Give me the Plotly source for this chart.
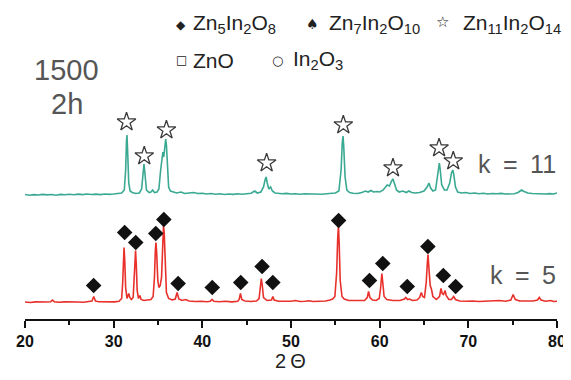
import plotly.graph_objects as go

# ---------------- data (2theta in degrees, intensity in arbitrary units above each baseline) -------------
k5_two_theta = [20.0, 20.6, 21.2, 21.8, 22.4, 22.9, 23.1, 23.3, 23.8, 24.5, 25.2, 25.9, 26.6, 27.3, 27.55, 27.75,
                27.95, 28.3, 28.9, 29.5, 30.1, 30.6, 30.9, 31.02, 31.1, 31.17, 31.25, 31.35, 31.5, 31.6, 31.7,
                31.82, 32.0, 32.2, 32.32, 32.4, 32.47, 32.55, 32.65, 32.8, 32.95, 33.1, 33.4, 33.8, 34.2, 34.45,
                34.6, 34.7, 34.77, 34.85, 34.98, 35.1, 35.25, 35.4, 35.52, 35.62, 35.7, 35.8, 35.95, 36.2, 36.6,
                36.95, 37.15, 37.35, 37.7, 38.1, 38.5, 39.2, 39.9, 40.5, 40.9, 41.1, 41.3, 41.9, 42.6, 43.3, 44.0,
                44.15, 44.3, 44.45, 44.8, 45.5, 46.1, 46.4, 46.55, 46.65, 46.75, 46.9, 47.3, 47.8, 47.95, 48.1,
                48.6, 49.3, 50.0, 50.5, 51.0, 51.6, 52.0, 52.5, 53.2, 53.9, 54.4, 54.7, 54.95, 55.15, 55.27, 55.35,
                55.43, 55.55, 55.75, 56.0, 56.5, 57.2, 57.8, 58.3, 58.6, 58.75, 58.9, 59.2, 59.6, 59.95, 60.1,
                60.25, 60.35, 60.5, 60.8, 61.5, 62.3, 62.8, 62.95, 63.15, 63.35, 63.7, 64.2, 64.5, 64.7, 64.85,
                65.05, 65.25, 65.38, 65.45, 65.55, 65.7, 65.85, 66.0, 66.4, 66.75, 66.92, 67.05, 67.2, 67.38, 67.5,
                67.8, 68.1, 68.35, 68.55, 69.0, 69.8, 70.5, 71.2, 72.0, 72.8, 73.5, 74.2, 74.8, 75.05, 75.3, 75.8,
                76.5, 77.3, 77.8, 78.0, 78.2, 78.7, 79.3, 79.6, 80.0]
k5_intensity = [0.5, 0.0, 0.6, 0.2, 0.5, 0.8, 2.5, 0.8, 0.3, 0.6, 0.2, 0.5, 0.3, 0.7, 1.5, 6,
                1.5, 0.8, 0.5, 0.8, 0.6, 1.2, 4, 20, 45, 55, 42, 15, 4, 6, 9,
                5, 3, 5, 22, 45, 52, 38, 12, 4, 7, 3, 2, 2.5, 3, 6,
                25, 52, 60, 50, 22, 15, 17, 25, 55, 77, 70, 35, 10, 4, 2.5,
                3.5, 10, 3.5, 2, 3, 1.5, 1, 1.3, 0.8, 1.2, 3, 1.2, 0.8, 1.2, 0.6, 1.2,
                3, 9, 3, 1.5, 1, 1.5, 4, 16, 24, 18, 5, 2, 2.5, 6, 2.5,
                1.2, 1, 1.3, 2, 1, 1.2, 1.8, 1, 1.3, 1.5, 2.5, 3.5, 6, 30, 65, 77,
                60, 22, 6, 3.5, 2, 1.8, 1.5, 2, 5, 11, 5, 2.5, 2, 4, 14,
                29, 20, 6, 3, 2, 2, 3.5, 5, 3, 3.5, 2, 2.5, 5, 10, 6,
                5, 20, 40, 48, 35, 17, 13, 6, 3, 6, 14, 9, 8, 12, 7,
                3, 3, 6, 3, 1.5, 1.2, 1.5, 1, 1.3, 1.1, 2, 1.3, 2.5, 8, 3, 1.5,
                1.2, 1.5, 2.5, 5, 2.5, 1.2, 2, 1, 1.3]

k11_two_theta = [20.0, 20.5, 21.0, 21.5, 22.0, 22.5, 23.0, 23.5, 24.0, 24.5, 25.0, 25.5, 26.0, 26.5, 27.0, 27.5,
                 28.0, 28.5, 29.0, 29.5, 30.0, 30.5, 30.9, 31.2, 31.35, 31.45, 31.5, 31.57, 31.7, 31.85, 32.1,
                 32.5, 32.9, 33.15, 33.3, 33.42, 33.52, 33.7, 34.0, 34.2, 34.4, 34.6, 34.9, 35.1, 35.3, 35.45,
                 35.55, 35.65, 35.75, 35.87, 35.95, 36.05, 36.2, 36.4, 36.8, 37.1, 37.6, 38.0, 38.5, 39.0, 39.5,
                 40.0, 40.5, 41.0, 41.5, 42.0, 42.5, 43.0, 43.5, 44.0, 44.5, 45.0, 45.5, 45.9, 46.2, 46.6, 46.9,
                 47.1, 47.2, 47.32, 47.5, 47.7, 47.9, 48.2, 48.6, 49.0, 49.5, 50.0, 50.5, 51.0, 51.5, 52.0, 52.5,
                 53.0, 53.5, 54.0, 54.5, 55.0, 55.4, 55.65, 55.78, 55.87, 55.95, 56.1, 56.3, 56.6, 57.0, 57.5,
                 58.0, 58.4, 58.7, 59.0, 59.3, 59.7, 60.0, 60.4, 60.85, 61.1, 61.35, 61.5, 61.65, 61.9, 62.2,
                 62.6, 63.0, 63.3, 63.6, 64.0, 64.5, 65.0, 65.35, 65.55, 65.75, 66.0, 66.3, 66.5, 66.65, 66.73,
                 66.82, 67.0, 67.3, 67.6, 67.9, 68.1, 68.25, 68.35, 68.55, 68.8, 69.2, 69.7, 70.2, 70.7, 71.2,
                 71.7, 72.2, 72.7, 73.2, 73.7, 74.2, 74.7, 75.2, 75.6, 76.0, 76.3, 76.7, 77.2, 77.7, 78.2, 78.7,
                 79.2, 79.6, 80.0]
k11_intensity = [0.5, -0.3, 0.4, 0.0, 0.6, 0.1, 0.5, -0.2, 0.6, 0.2, 0.8, 0.3, 0.9, 0.4, 1.0, 0.5,
                 0.9, 0.4, 1.0, 0.6, 1.0, 1.2, 2.0, 5, 25, 55, 60, 45, 12, 4, 2.5,
                 1.5, 2, 6, 20, 31, 22, 5, 2.5, 3, 5, 2.5, 3, 6, 25, 40,
                 43, 38, 45, 56, 50, 25, 8, 4, 3, 2, 3, 1.5, 2, 2.5, 1.5,
                 1.8, 1.0, 1.5, 0.8, 1.2, 0.5, 1.0, 0.6, 1.2, 0.8, 1.0, 1.8, 4, 2, 3, 8,
                 16, 18, 12, 6, 8, 4, 2, 1.5, 1.2, 1.6, 1.0, 1.3, 0.8, 1.2, 1.0, 0.7,
                 1.1, 0.8, 1.2, 1.5, 2, 4, 25, 52, 59, 48, 18, 5, 2.5, 1.8, 1.5,
                 2.5, 4, 3, 4.5, 3, 3.5, 3, 5, 10, 9, 14, 16, 12, 5, 3,
                 4, 2.5, 4, 2.5, 2, 2.5, 4, 8, 12, 7, 4, 5, 18, 30, 32,
                 26, 10, 5, 5, 12, 22, 25, 21, 8, 3, 2, 2.5, 1.5, 2, 1.2,
                 1.8, 1.0, 1.5, 1.2, 1.6, 1.0, 1.4, 1.2, 2.5, 5, 3.5, 2, 1.5, 1.2, 1.6, 1.0,
                 1.4, 1.0, 2.0]

# phase markers: Zn5In2O8 (diamonds) on k = 5, Zn11In2O14 (stars) on k = 11
zn5_marker_two_theta = [27.74, 31.24, 32.49, 34.75, 35.66, 37.27, 41.12, 44.33, 46.74, 47.95,
                        55.37, 58.85, 60.35, 63.11, 65.44, 67.18, 68.57]
zn5_marker_intensity = [17, 70, 60, 69, 83, 19, 15, 20, 36, 20, 82, 22, 39, 16, 56, 27, 16]
zn11_marker_two_theta = [31.45, 33.45, 35.95, 47.25, 55.9, 61.5, 66.7, 68.3]
zn11_marker_intensity = [73, 39, 65, 32, 70, 27, 47, 34]

x_ticks = [20, 30, 40, 50, 60, 70, 80]
sample_labels = ["k\u2002=\u200211", "k\u2002=\u20025"]
legend_labels = ["Zn<sub>5</sub>In<sub>2</sub>O<sub>8</sub>", "Zn<sub>7</sub>In<sub>2</sub>O<sub>10</sub>",
                 "Zn<sub>11</sub>In<sub>2</sub>O<sub>14</sub>", "ZnO", "In<sub>2</sub>O<sub>3</sub>"]
legend_symbols = ["\u25C6", "\u2660", "\u2606", "\u25A1", "\u25CB"]
condition_labels = ["1500", "2h"]

# ---------------- layout constants -------------
# the page body has an 8 px margin, so the figure is drawn 8 px smaller and all page positions shifted by 8
PAGE_OFF = 8
W, H = 571 - PAGE_OFF, 380 - PAGE_OFF
ML, MR, MT, MB = 25 - PAGE_OFF, 14, 0, 61
PW, PH = W - ML - MR, H - MT - MB
K5_OFFSET = 16.5    # vertical offset of the k = 5 pattern
K11_OFFSET = 124    # vertical offset of the k = 11 pattern
GREEN = "#3aa992"
RED = "#e8312b"
GREY = "#555555"
FONT = "Liberation Sans, Arial, sans-serif"


def px(x):
    return (x - PAGE_OFF - ML) / PW


def py(y):
    return (H - MB - (y - PAGE_OFF)) / PH


fig = go.Figure()
fig.add_trace(go.Scatter(x=k11_two_theta, y=[v + K11_OFFSET for v in k11_intensity], mode="lines",
                         line=dict(color=GREEN, width=1.6), hoverinfo="skip"))
fig.add_trace(go.Scatter(x=k5_two_theta, y=[v + K5_OFFSET for v in k5_intensity], mode="lines",
                         line=dict(color=RED, width=1.6), hoverinfo="skip"))
fig.add_trace(go.Scatter(x=zn11_marker_two_theta, y=[v + K11_OFFSET for v in zn11_marker_intensity],
                         mode="markers", marker=dict(symbol="star-open", size=14, color="#3a3a3a",
                                                     line=dict(width=1.3, color="#3a3a3a"))))
fig.add_trace(go.Scatter(x=zn5_marker_two_theta, y=[v + K5_OFFSET for v in zn5_marker_intensity],
                         mode="markers", marker=dict(symbol="diamond", size=12, color="#111111",
                                                     line=dict(width=0))))

ann = []
# condition text
ann.append(dict(text=condition_labels[0], x=px(66), y=py(70), font=dict(size=29, color=GREY)))
ann.append(dict(text=condition_labels[1], x=px(67), y=py(104), font=dict(size=29, color=GREY)))
# sample labels
ann.append(dict(text=sample_labels[0], x=px(517), y=py(164), font=dict(size=25, color=GREY)))
ann.append(dict(text=sample_labels[1], x=px(523), y=py(275), font=dict(size=25, color=GREY)))
# legend: symbols and texts
sym_pos = [(181, 25, 12), (312, 24, 14), (442, 22, 15), (181, 60, 12), (277, 60, 13)]
txt_pos = [(191, 24), (327, 24), (461, 24), (191, 60), (291, 60)]
for s, (sx, sy, ss) in zip(legend_symbols, sym_pos):
    ann.append(dict(text=s, x=px(sx), y=py(sy), font=dict(size=ss, color="#222222",
                                                          family="DejaVu Sans")))
for t, (tx, ty) in zip(legend_labels, txt_pos):
    ann.append(dict(text=t, x=px(tx), y=py(ty), xanchor="left", font=dict(size=21, color="#222222")))
# x-axis title
ann.append(dict(text="2\u2009\u0398", x=px(290), y=py(361), font=dict(size=20, color="#222222")))

for a in ann:
    a.setdefault("xanchor", "center")
    a.update(xref="paper", yref="paper", yanchor="middle", showarrow=False)

fig.update_layout(
    width=W, height=H,
    margin=dict(l=ML, r=MR, t=MT, b=MB),
    paper_bgcolor="white", plot_bgcolor="white",
    showlegend=False,
    font=dict(family=FONT, color="#222222"),
    annotations=ann,
    xaxis=dict(range=[20, 80], tickvals=x_ticks, ticktext=[str(v) for v in x_ticks],
               showline=True, linecolor="#111111", linewidth=2, mirror=False,
               ticks="outside", ticklen=7, tickwidth=2, tickcolor="#111111",
               minor=dict(dtick=5, tick0=20, ticks="outside", ticklen=4, tickwidth=2, tickcolor="#111111"),
               showgrid=False, zeroline=False,
               tickfont=dict(size=16, color="#111111", family=FONT, weight="bold")),
    yaxis=dict(range=[0, PH], visible=False, showgrid=False, zeroline=False),
)

fig.write_html("out.html")
